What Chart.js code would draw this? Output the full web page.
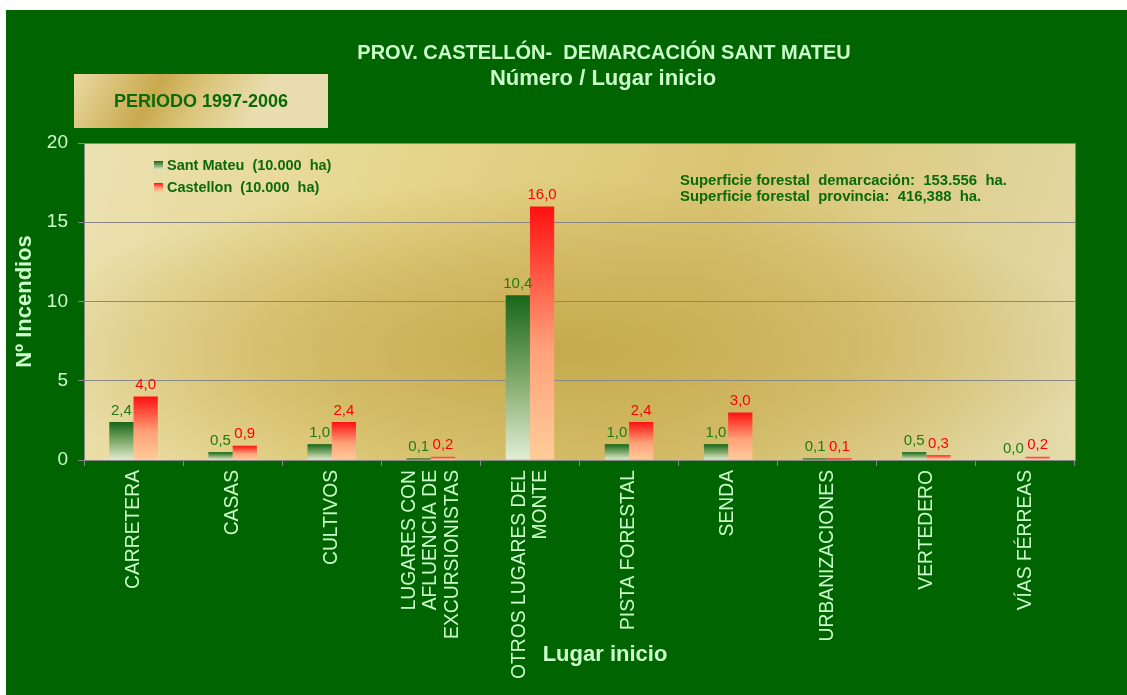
<!DOCTYPE html>
<html lang="es">
<head>
<meta charset="utf-8">
<title>Número / Lugar inicio</title>
<script src="https://cdn.jsdelivr.net/npm/chart.js@4.4.1/dist/chart.umd.min.js"></script>
<style>
    html, body { margin: 0; padding: 0; background: #fff; }
    #wrap { width: 1127px; height: 695px; }
</style>
</head>
<body>
<div id="wrap"><canvas id="chart" width="1127" height="695"></canvas></div>
<script>
// datos del gráfico
const categories = [
    'CARRETERA',
    'CASAS',
    'CULTIVOS',
    ['LUGARES CON', 'AFLUENCIA DE', 'EXCURSIONISTAS'],
    ['OTROS LUGARES DEL', 'MONTE'],
    'PISTA FORESTAL',
    'SENDA',
    'URBANIZACIONES',
    'VERTEDERO',
    'VÍAS FÉRREAS'
];
const santMateu = [2.4, 0.5, 1.0, 0.1, 10.4, 1.0, 1.0, 0.1, 0.5, 0.0];
const castellon = [4.0, 0.9, 2.4, 0.2, 16.0, 2.4, 3.0, 0.1, 0.3, 0.2];
const seriesNames = ['Sant Mateu  (10.000  ha)', 'Castellon  (10.000  ha)'];
const yTicks = [0, 5, 10, 15, 20];

const titleLines = ['PROV. CASTELLÓN-  DEMARCACIÓN SANT MATEU', 'Número / Lugar inicio'];
const periodLabel = 'PERIODO 1997-2006';
const notes = [
    'Superficie forestal  demarcación:  153.556  ha.',
    'Superficie forestal  provincia:  416,388  ha.'
];
const xTitle = 'Lugar inicio';
const yTitle = 'Nº Incendios';

// colores
const BG_GREEN = '#006400';
const PALE = '#ccffcc';
const TEXT_GREEN = '#0a6a0a';
const GRID = '#888888';
const FONT = '"Liberation Sans", Arial, sans-serif';

const greenStops = [[0, '#17661a'], [0.5, '#7fa868'], [1, '#e2eed6']];
const redStops = [[0, '#ff1010'], [0.55, '#ffa078'], [1, '#ffcc99']];

function barGradient(context, stops) {
    const chart = context.chart;
    if (!chart.chartArea || context.type !== 'data' || !chart.scales.y) return stops[0][1];
    const y = chart.scales.y;
    const top = y.getPixelForValue(context.parsed.y);
    const bottom = y.getPixelForValue(0);
    if (bottom - top < 2) return stops[0][1];
    const g = chart.ctx.createLinearGradient(0, top, 0, bottom);
    stops.forEach(([o, c]) => g.addColorStop(o, c));
    return g;
}

function fmt(v) {
    return v.toFixed(1).replace('.', ',');
}

// fondo verde, zona dorada y recuadro del periodo
const backdrop = {
    id: 'backdrop',
    beforeDraw(chart) {
        const { ctx, chartArea: a } = chart;
        const w = a.right - a.left, h = a.bottom - a.top;
        ctx.save();
        ctx.fillStyle = '#fff';
        ctx.fillRect(0, 0, chart.width, chart.height);
        ctx.fillStyle = BG_GREEN;
        ctx.fillRect(6, 10, chart.width - 6, chart.height - 10);

        // base dorada
        const g = ctx.createLinearGradient(a.left, a.top, a.right, a.bottom);
        g.addColorStop(0, '#ebe1b2');
        g.addColorStop(0.3, '#e6d68c');
        g.addColorStop(0.6, '#d9c472');
        g.addColorStop(1, '#e4dbab');
        ctx.fillStyle = g;
        ctx.fillRect(a.left, a.top, w, h);

        // banda oscura (elíptica)
        ctx.save();
        ctx.beginPath();
        ctx.rect(a.left, a.top, w, h);
        ctx.clip();
        ctx.translate(560, 350);
        ctx.scale(3.2, 1);
        const r = ctx.createRadialGradient(0, 0, 0, 0, 0, 170);
        r.addColorStop(0, 'rgba(196,168,74,0.95)');
        r.addColorStop(0.5, 'rgba(200,172,80,0.6)');
        r.addColorStop(1, 'rgba(200,172,80,0)');
        ctx.fillStyle = r;
        ctx.fillRect(-300, -300, 600, 600);
        ctx.restore();

        // recuadro PERIODO
        const bx = 74, by = 74, bw = 254, bh = 54;
        const gb = ctx.createLinearGradient(bx, by, bx + bw * 0.6, by + bh * 1.6);
        gb.addColorStop(0, '#ead9a2');
        gb.addColorStop(0.45, '#c9a94e');
        gb.addColorStop(0.7, '#dcc67c');
        gb.addColorStop(1, '#e9dcae');
        ctx.fillStyle = gb;
        ctx.fillRect(bx, by, bw, bh);
        ctx.fillStyle = TEXT_GREEN;
        ctx.font = 'bold 18px ' + FONT;
        ctx.textAlign = 'center';
        ctx.textBaseline = 'middle';
        ctx.fillText(periodLabel, bx + bw / 2, by + bh / 2 + 1);
        ctx.restore();
    }
};

// valores encima de las barras
const valueLabels = {
    id: 'valueLabels',
    afterDatasetsDraw(chart) {
        const ctx = chart.ctx;
        ctx.save();
        ctx.font = '15px ' + FONT;
        ctx.textAlign = 'center';
        ctx.textBaseline = 'bottom';
        chart.data.datasets.forEach((ds, i) => {
            const meta = chart.getDatasetMeta(i);
            ctx.fillStyle = i === 0 ? '#1f7a12' : '#ff0000';
            meta.data.forEach((bar, j) => {
                ctx.fillText(fmt(ds.data[j]), bar.x, bar.y - 4);
            });
        });
        ctx.restore();
    }
};

// títulos, leyenda, notas y etiquetas del eje x
const decorations = {
    id: 'decorations',
    afterDraw(chart) {
        const { ctx, chartArea: a, scales } = chart;
        ctx.save();

        // borde derecho del área
        ctx.strokeStyle = GRID;
        ctx.lineWidth = 1;
        ctx.beginPath();
        ctx.moveTo(a.right + 0.5, a.top);
        ctx.lineTo(a.right + 0.5, a.bottom);
        ctx.stroke();

        ctx.fillStyle = PALE;
        ctx.textAlign = 'center';
        ctx.textBaseline = 'middle';
        ctx.font = 'bold 20px ' + FONT;
        ctx.fillText(titleLines[0], 604, 53);
        ctx.font = 'bold 22px ' + FONT;
        ctx.fillText(titleLines[1], 603, 79);

        ctx.font = 'bold 22px ' + FONT;
        ctx.fillText(xTitle, 605, 655);

        // etiquetas de categoría giradas
        ctx.font = '19.3px ' + FONT;
        ctx.textAlign = 'right';
        const lh = 21.5;
        categories.forEach((label, i) => {
            const lines = Array.isArray(label) ? label : [label];
            const x = scales.x.getPixelForValue(i);
            ctx.save();
            ctx.translate(x, a.bottom + 10);
            ctx.rotate(-Math.PI / 2);
            lines.forEach((line, k) => {
                ctx.fillText(line, 0, (k - (lines.length - 1) / 2) * lh);
            });
            ctx.restore();
        });

        // leyenda
        ctx.textAlign = 'left';
        ctx.font = 'bold 14.5px ' + FONT;
        [greenStops, redStops].forEach((stops, i) => {
            const sy = 161 + i * 22;
            const g = ctx.createLinearGradient(0, sy, 0, sy + 9);
            stops.forEach(([o, c]) => g.addColorStop(o, c));
            ctx.fillStyle = g;
            ctx.fillRect(154, sy, 9, 9);
            ctx.fillStyle = TEXT_GREEN;
            ctx.fillText(seriesNames[i], 167, sy + 5);
        });

        // notas de superficie
        ctx.font = 'bold 14.9px ' + FONT;
        notes.forEach((t, i) => ctx.fillText(t, 680, 181 + i * 16));

        ctx.restore();
    }
};

const chart = new Chart(document.getElementById('chart'), {
    type: 'bar',
    data: {
        labels: categories,
        datasets: [
            {
                label: seriesNames[0],
                data: santMateu,
                backgroundColor: (c) => barGradient(c, greenStops),
                categoryPercentage: 0.49,
                barPercentage: 1.0
            },
            {
                label: seriesNames[1],
                data: castellon,
                backgroundColor: (c) => barGradient(c, redStops),
                categoryPercentage: 0.49,
                barPercentage: 1.0
            }
        ]
    },
    options: {
        responsive: false,
        animation: false,
        layout: {
            padding: { left: 6, top: 143, right: 52, bottom: 0 }
        },
        plugins: {
            legend: { display: false },
            tooltip: { enabled: false },
            title: { display: false }
        },
        scales: {
            x: {
                grid: {
                    offset: true,
                    drawOnChartArea: false,
                    drawTicks: true,
                    tickLength: 6,
                    color: GRID
                },
                border: { color: GRID, width: 1 },
                ticks: { display: false },
                afterFit: (scale) => { scale.height = 235; }
            },
            y: {
                min: 0,
                max: 20,
                afterBuildTicks: (scale) => {
                    scale.ticks = yTicks.map(v => ({ value: v }));
                },
                grid: {
                    color: GRID,
                    tickLength: 6,
                    lineWidth: 1
                },
                border: { color: GRID, width: 1 },
                ticks: {
                    color: PALE,
                    padding: 10,
                    font: { family: FONT, size: 19 }
                },
                title: {
                    display: true,
                    text: yTitle,
                    color: PALE,
                    padding: { top: 6, bottom: 0 },
                    font: { family: FONT, size: 22, weight: 'bold' }
                },
                afterFit: (scale) => { scale.width = 78; }
            }
        }
    },
    plugins: [backdrop, valueLabels, decorations]
});
</script>
</body>
</html>
